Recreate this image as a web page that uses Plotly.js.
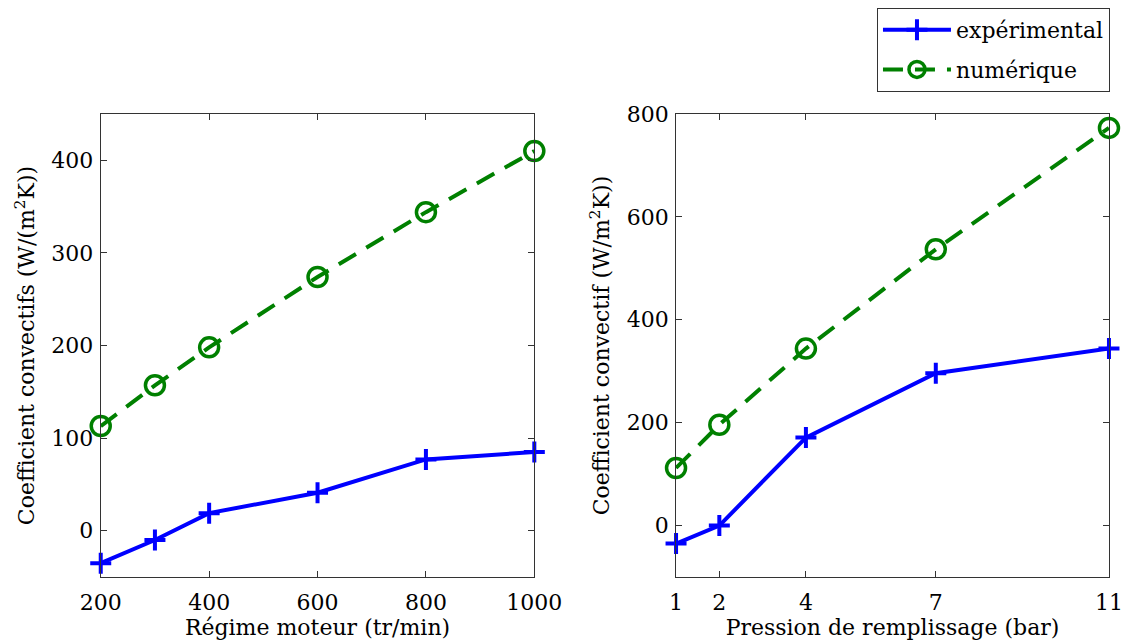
<!DOCTYPE html>
<html>
<head>
<meta charset="utf-8">
<script src="https://cdn.plot.ly/plotly-3.0.1.min.js"></script>
<style>html,body{margin:0;padding:0;background:#fff;}#chart{width:1123px;height:644px;}</style>
</head>
<body>
<div id="chart"></div>
<script>
// Left panel: engine speed
const regime = [200, 300, 400, 600, 800, 1000];
const regimeExp = [-35, -10, 19, 41, 77, 85];
const regimeNum = [113, 157, 198, 274, 344, 410];
const regimeTicks = [200, 400, 600, 800, 1000];

// Right panel: filling pressure
const pression = [1, 2, 4, 7, 11];
const pressionExp = [-35, 0, 171, 296, 344];
const pressionNum = [112, 196, 344, 537, 773];
const pressionTicks = [1, 2, 4, 7, 11];

const seriesNames = ['expérimental', 'numérique'];

const FONT = 'DejaVu Serif';
const BLUE = '#0000ff';
const GREEN = '#008000';
const AX = '#333333';

function expTrace(x, y, xa, ya, show) {
  return {x: x, y: y, xaxis: xa, yaxis: ya, type: 'scatter', mode: 'lines+markers',
    name: seriesNames[0], legendgroup: 'exp', showlegend: show, cliponaxis: false,
    line: {color: BLUE, width: 4},
    marker: {symbol: 'cross-thin-open', size: 15, color: BLUE, line: {color: BLUE, width: 4}}};
}
function numTrace(x, y, xa, ya, show) {
  return {x: x, y: y, xaxis: xa, yaxis: ya, type: 'scatter', mode: 'lines+markers',
    name: seriesNames[1], legendgroup: 'num', showlegend: show, cliponaxis: false,
    line: {color: GREEN, width: 4, dash: '20px,12px'},
    marker: {symbol: 'circle-open', size: 19, color: GREEN, line: {color: GREEN, width: 3.5}}};
}

const data = [
  expTrace(regime, regimeExp, 'x', 'y', true),
  numTrace(regime, regimeNum, 'x', 'y', true),
  expTrace(pression, pressionExp, 'x2', 'y2', false),
  numTrace(pression, pressionNum, 'x2', 'y2', false)
];

const TICKFONT = {family: FONT, size: 22, color: '#000'};
const TITLEFONT = {family: FONT, size: 22, color: '#000'};

const common = {
  showline: true, linecolor: AX, linewidth: 1, mirror: 'allticks',
  ticks: 'inside', ticklen: 6, tickcolor: AX, tickwidth: 1,
  showgrid: false, zeroline: false, tickfont: TICKFONT
};
const yDomain = [0.104, 0.823];

const layout = {
  width: 1123, height: 644,
  margin: {l: 0, r: 0, t: 0, b: 0},
  paper_bgcolor: '#fff', plot_bgcolor: '#fff',
  font: {family: FONT, color: '#000', size: 22},
  xaxis: Object.assign({}, common, {
    domain: [0.0897, 0.4758], anchor: 'y', range: [200, 1000],
    tickvals: regimeTicks, ticklabelstandoff: 6,
    title: {text: 'Régime moteur (tr/min)', font: TITLEFONT, standoff: 4}
  }),
  yaxis: Object.assign({}, common, {
    domain: yDomain, anchor: 'x', range: [-50, 450],
    tickvals: [0, 100, 200, 300, 400], ticklabelstandoff: 2,
    title: {text: 'Coefficient convectifs (W/(m<sup>2</sup>K))', font: TITLEFONT, standoff: 10}
  }),
  xaxis2: Object.assign({}, common, {
    domain: [0.602, 0.9875], anchor: 'y2', range: [1, 11],
    tickvals: pressionTicks, ticklabelstandoff: 6,
    title: {text: 'Pression de remplissage (bar)', font: TITLEFONT, standoff: 4}
  }),
  yaxis2: Object.assign({}, common, {
    domain: yDomain, anchor: 'x2', range: [-100, 800],
    tickvals: [0, 200, 400, 600, 800], ticklabelstandoff: 2,
    title: {text: 'Coefficient convectif (W/m<sup>2</sup>K))', font: TITLEFONT, standoff: 10}
  }),
  showlegend: true,
  legend: {
    x: 0.9884, xanchor: 'right', y: 0.9876, yanchor: 'top',
    bgcolor: '#fff', bordercolor: AX, borderwidth: 1,
    font: {family: FONT, size: 22, color: '#000'},
    itemwidth: 68, traceorder: 'grouped', tracegroupgap: 8
  }
};

Plotly.newPlot('chart', data, layout, {displayModeBar: false, staticPlot: true});
</script>
</body>
</html>
